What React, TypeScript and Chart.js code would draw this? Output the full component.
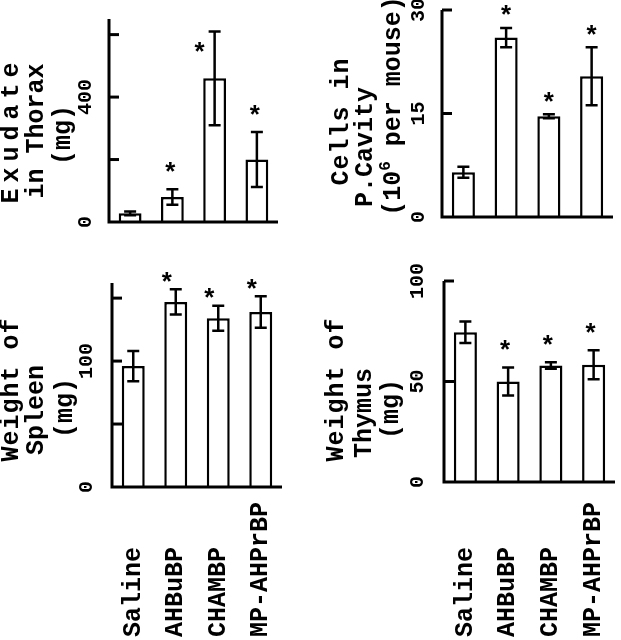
import React, { useEffect, useRef } from "react";
import { Chart, registerables } from "chart.js";

Chart.register(...registerables);

// ---------- data ----------
const categories = ["Saline", "AHBuBP", "CHAMBP", "MP-AHPrBP"];
const significant = [false, true, true, true];

const exudateMeans = [28, 80, 460, 200];
const exudateErrors = [6, 25, 150, 88];
const exudateTicks = [200, 400, 600];
const exudateTickLabels = [0, 400];

const cellsMeans = [6.5, 26, 14.6, 20.4];
const cellsErrors = [0.8, 1.4, 0.3, 4.2];
const cellsTicks = [15, 30];
const cellsTickLabels = [0, 15, 30];

const spleenMeans = [96, 147, 134, 139];
const spleenErrors = [12, 10, 10, 12.5];
const spleenTicks = [50, 100, 150];
const spleenTickLabels = [0, 100];

const thymusMeans = [74.5, 50, 58, 58.3];
const thymusErrors = [5.3, 7, 1.6, 7.2];
const thymusTicks = [50, 100];
const thymusTickLabels = [0, 50, 100];

// ---------- styling ----------
const FONT = '"Liberation Mono", "Courier New", monospace';
const TITLE_FONT = `bold 25px ${FONT}`;
const SUP_FONT = `bold 16px ${FONT}`;
const TICK_FONT = `bold 20px ${FONT}`;
const CAT_FONT = `bold 25px ${FONT}`;
const STAR_FONT = `bold 26px ${FONT}`;

type Part = [string, boolean];
type TitleLine = { parts: Part[]; x: number; cy: number; ls?: number };

type Panel = {
  left: number;
  top: number;
  width: number;
  height: number;
  pad: { left: number; top: number; right: number; bottom: number };
  max: number;
  means: number[];
  errors: number[];
  ticks: number[];
  tickLabels: number[];
  tickLabelX: number;
  title: TitleLine[];
  starGap: number;
  starDx: number;
  catY?: number;
};

const panels: Panel[] = [
  {
    left: 0, top: 0, width: 320, height: 250,
    pad: { left: 109, top: 19, right: 42, bottom: 28 },
    max: 650,
    means: exudateMeans, errors: exudateErrors,
    ticks: exudateTicks, tickLabels: exudateTickLabels, tickLabelX: 86,
    title: [
      { parts: [["Exudate", false]], x: 12, cy: 133, ls: 6 },
      { parts: [["in Thorax", false]], x: 37, cy: 131 },
      { parts: [["(mg)", false]], x: 64, cy: 135 },
    ],
    starGap: 20, starDx: -2,
  },
  {
    left: 320, top: 0, width: 301, height: 250,
    pad: { left: 122, top: 10, right: 8, bottom: 33 },
    max: 30,
    means: cellsMeans, errors: cellsErrors,
    ticks: cellsTicks, tickLabels: cellsTickLabels, tickLabelX: 99,
    title: [
      { parts: [["Cells in", false]], x: 22, cy: 122, ls: 1 },
      { parts: [["P.Cavity", false]], x: 46, cy: 147 },
      { parts: [["(10", false], ["6", true], [" per mouse)", false]], x: 74, cy: 106 },
    ],
    starGap: 15, starDx: 0,
  },
  {
    left: 0, top: 250, width: 320, height: 390,
    pad: { left: 112, top: 33, right: 38, bottom: 153 },
    max: 162,
    means: spleenMeans, errors: spleenErrors,
    ticks: spleenTicks, tickLabels: spleenTickLabels, tickLabelX: 87,
    title: [
      { parts: [["Weight of", false]], x: 12, cy: 140, ls: 1 },
      { parts: [["Spleen", false]], x: 37, cy: 160 },
      { parts: [["(mg)", false]], x: 66, cy: 158 },
    ],
    starGap: 10, starDx: -9,
    catY: 387,
  },
  {
    left: 320, top: 250, width: 301, height: 390,
    pad: { left: 124, top: 31, right: 6, bottom: 158 },
    max: 100,
    means: thymusMeans, errors: thymusErrors,
    ticks: thymusTicks, tickLabels: thymusTickLabels, tickLabelX: 98,
    title: [
      { parts: [["Weight of", false]], x: 17, cy: 140, ls: 1 },
      { parts: [["Thymus", false]], x: 45, cy: 163 },
      { parts: [["(mg)", false]], x: 72, cy: 159 },
    ],
    starGap: 20, starDx: -3,
    catY: 387,
  },
];

function drawTitleLine(ctx: CanvasRenderingContext2D, line: TitleLine) {
  ctx.save();
  ctx.translate(line.x, line.cy);
  ctx.rotate(-Math.PI / 2);
  ctx.textBaseline = "middle";
  ctx.textAlign = "left";
  ctx.fillStyle = "#000";
  const ls = line.ls || 0;
  (ctx as any).letterSpacing = `${ls}px`;
  const widths = line.parts.map(([t, sup]) => {
    ctx.font = sup ? SUP_FONT : TITLE_FONT;
    return ctx.measureText(t).width;
  });
  const total = widths.reduce((a, b) => a + b, 0) - ls;
  let cx = -total / 2;
  line.parts.forEach(([t, sup], i) => {
    ctx.font = sup ? SUP_FONT : TITLE_FONT;
    ctx.fillText(t, cx, sup ? -8 : 0);
    cx += widths[i];
  });
  ctx.restore();
}

function drawRotated(ctx: CanvasRenderingContext2D, text: string, x: number, y: number, align: CanvasTextAlign, font: string) {
  ctx.save();
  ctx.translate(x, y);
  ctx.rotate(-Math.PI / 2);
  ctx.font = font;
  ctx.textAlign = align;
  ctx.textBaseline = "middle";
  ctx.fillStyle = "#000";
  ctx.fillText(text, 0, 0);
  ctx.restore();
}

function makePlugin(p: Panel) {
  return {
    id: "panelDecor",
    afterDatasetsDraw(chart: any) {
      const ctx: CanvasRenderingContext2D = chart.ctx;
      const { left, right, top, bottom } = chart.chartArea;
      const xs = chart.scales.x;
      const ys = chart.scales.y;
      ctx.save();
      ctx.strokeStyle = "#000";
      ctx.lineCap = "butt";
      ctx.lineJoin = "miter";

      // error bars
      ctx.lineWidth = 2.5;
      p.means.forEach((m, i) => {
        const x = xs.getPixelForValue(i);
        const y1 = ys.getPixelForValue(m + p.errors[i]);
        const y2 = ys.getPixelForValue(Math.max(0, m - p.errors[i]));
        ctx.beginPath();
        ctx.moveTo(x, y1);
        ctx.lineTo(x, y2);
        ctx.moveTo(x - 6, y1);
        ctx.lineTo(x + 6, y1);
        ctx.moveTo(x - 6, y2);
        ctx.lineTo(x + 6, y2);
        ctx.stroke();

        if (significant[i]) {
          let sx = x + p.starDx;
          let sy = y1 - p.starGap;
          // no room above the whisker: put the star beside it
          if (sy < top - 5) {
            sx = x - 15;
            sy = y1 + 18;
          }
          ctx.font = STAR_FONT;
          ctx.textAlign = "center";
          ctx.textBaseline = "middle";
          ctx.fillStyle = "#000";
          ctx.fillText("*", sx, sy + 5);
        }
      });

      // axes
      ctx.lineWidth = 3;
      ctx.beginPath();
      ctx.moveTo(left, top);
      ctx.lineTo(left, bottom);
      ctx.lineTo(right, bottom);
      ctx.stroke();

      // inward tick marks
      p.ticks.forEach((v) => {
        const y = ys.getPixelForValue(v);
        ctx.beginPath();
        ctx.moveTo(left, y);
        ctx.lineTo(left + 10, y);
        ctx.stroke();
      });

      // tick labels
      p.tickLabels.forEach((v) => {
        drawRotated(ctx, String(v), p.tickLabelX, ys.getPixelForValue(v), "center", TICK_FONT);
      });

      // title
      p.title.forEach((line) => drawTitleLine(ctx, line));

      // category labels
      if (p.catY !== undefined) {
        categories.forEach((c, i) => {
          drawRotated(ctx, c, xs.getPixelForValue(i), p.catY as number, "left", CAT_FONT);
        });
      }
      ctx.restore();
    },
  };
}

function PanelChart({ panel }: { panel: Panel }) {
  const ref = useRef<HTMLCanvasElement | null>(null);
  useEffect(() => {
    if (!ref.current) return;
    const chart = new Chart(ref.current, {
      type: "bar",
      data: {
        labels: categories,
        datasets: [
          {
            data: panel.means,
            backgroundColor: "#ffffff",
            borderColor: "#000000",
            borderWidth: 2.5,
            borderSkipped: "bottom",
            barPercentage: 0.54,
            categoryPercentage: 1,
          },
        ],
      },
      options: {
        responsive: false,
        animation: false,
        devicePixelRatio: 1,
        events: [],
        layout: { padding: panel.pad },
        plugins: { legend: { display: false }, tooltip: { enabled: false } },
        scales: {
          x: { display: false, offset: true },
          y: { display: false, min: 0, max: panel.max },
        },
      },
      plugins: [makePlugin(panel)],
    } as any);
    return () => chart.destroy();
  }, [panel]);
  return (
    <canvas
      ref={ref}
      width={panel.width}
      height={panel.height}
      style={{ position: "absolute", left: panel.left, top: panel.top, width: panel.width, height: panel.height }}
    />
  );
}

export default function App() {
  return (
    <div style={{ position: "absolute", left: 0, top: 0, width: 621, height: 640, background: "#fff" }}>
      {panels.map((p, i) => (
        <PanelChart key={i} panel={p} />
      ))}
    </div>
  );
}
